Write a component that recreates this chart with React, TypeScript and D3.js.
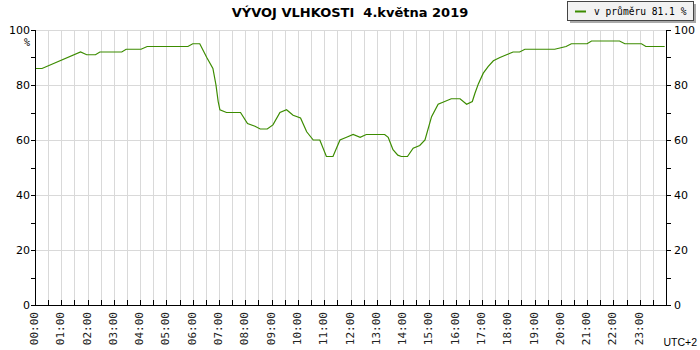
import React from "react";
import * as d3 from "d3";

// humidity readings, 4 May 2019 (local time, UTC+2)
const times = [
  "00:00", "00:16", "01:44", "01:58", "02:18", "02:28", "03:18", "03:28", "04:02", "04:16",
  "05:49", "06:00", "06:16", "06:32", "06:46", "06:53", "06:58", "07:02", "07:17", "07:49",
  "08:05", "08:22", "08:34", "08:50", "09:03", "09:19", "09:34", "09:49", "10:06", "10:20",
  "10:35", "10:50", "11:05", "11:20", "11:36", "11:51", "12:06", "12:22", "12:36", "13:18",
  "13:26", "13:37", "13:48", "13:56", "14:10", "14:23", "14:38", "14:50", "15:05", "15:20",
  "15:35", "15:50", "16:10", "16:25", "16:38", "16:44", "16:52", "17:03", "17:14", "17:26",
  "17:41", "17:56", "18:11", "18:26", "18:38", "19:46", "20:12", "20:24", "21:00", "21:10",
  "22:14", "22:26", "23:04", "23:14", "23:57",
];
const humidity = [
  86, 86, 92, 91, 91, 92, 92, 93, 93, 94,
  94, 95, 95, 90, 86, 80, 74, 71, 70, 70,
  66, 65, 64, 64, 65.5, 70, 71, 69, 68, 63,
  60, 60, 54, 54, 60, 61, 62, 61, 62, 62,
  61, 56.5, 54.5, 54, 54, 57, 58, 60, 68.5, 73,
  74, 75, 75, 73, 74, 77, 80.5, 84.3, 86.7, 88.8,
  90, 91, 92, 92, 93, 93, 94, 95, 95, 96,
  96, 95, 95, 94, 94,
];
const hourLabels = d3.range(24).map((h) => (h < 10 ? "0" + h : "" + h) + ":00");
const yMajor = [0, 20, 40, 60, 80, 100];
const yMinor = [10, 30, 50, 70, 90];

const title = "VÝVOJ VLHKOSTI  4.května 2019";
const legendText = "v průměru 81.1 %";

const toHours = (t: string) => {
  const [h, m] = t.split(":").map(Number);
  return h + m / 60;
};

export default function App() {
  const left = 35, right = 666, top = 30, bottom = 305;
  const x = d3.scaleLinear().domain([0, 24]).range([left, right]);
  const y = d3.scaleLinear().domain([0, 100]).range([bottom, top]);

  const data = times.map((t, i) => ({ h: toHours(t), v: humidity[i] }));
  const line = d3.line<{ h: number; v: number }>().x((d) => x(d.h)).y((d) => y(d.v));

  const halfHours = d3.range(1, 48).map((k) => k / 2);
  const sans = "DejaVu Sans, sans-serif";
  const mono = "DejaVu Sans Mono, monospace";

  return (
    <svg width={700} height={350} style={{ position: "absolute", left: 0, top: 0, background: "#fff" }}>
      {/* grid */}
      <g stroke="#d9d9d9" shapeRendering="crispEdges">
        {halfHours.map((h) => (
          <line key={"v" + h} x1={Math.round(x(h)) + 0.5} x2={Math.round(x(h)) + 0.5} y1={top} y2={bottom} />
        ))}
        {yMajor.filter((v) => v > 0).map((v) => (
          <line key={"h" + v} x1={left} x2={right} y1={Math.round(y(v)) + 0.5} y2={Math.round(y(v)) + 0.5} />
        ))}
      </g>

      {/* data line */}
      <path d={line(data) || ""} fill="none" stroke="#3c8c00" strokeWidth={1.2} />

      {/* axes */}
      <g stroke="#000" shapeRendering="crispEdges">
        <line x1={left + 0.5} x2={left + 0.5} y1={top} y2={bottom + 1} />
        <line x1={right + 0.5} x2={right + 0.5} y1={top} y2={bottom + 1} />
        <line x1={left} x2={right + 1} y1={bottom + 0.5} y2={bottom + 0.5} />
        {halfHours.map((h) => (
          <line key={"t" + h} x1={Math.round(x(h)) + 0.5} x2={Math.round(x(h)) + 0.5} y1={bottom - 5} y2={bottom} />
        ))}
        {[...yMajor, ...yMinor].map((v) => (
          <g key={"yt" + v}>
            <line x1={left - 4} x2={left} y1={Math.round(y(v)) + 0.5} y2={Math.round(y(v)) + 0.5} />
            <line x1={right + 1} x2={right + 5} y1={Math.round(y(v)) + 0.5} y2={Math.round(y(v)) + 0.5} />
          </g>
        ))}
      </g>

      {/* y labels */}
      <g fontFamily={sans} fontSize={11} fill="#000">
        {yMajor.map((v) => (
          <g key={"yl" + v}>
            <text x={left - 5} y={y(v) + 4} textAnchor="end">{v}</text>
            <text x={right + 8} y={y(v) + 4} textAnchor="start">{v}</text>
          </g>
        ))}
      </g>
      <text x={27} y={46} fontFamily={mono} fontSize={10} textAnchor="middle">%</text>

      {/* x labels */}
      <g fontFamily={mono} fontSize={11} fill="#222">
        {hourLabels.map((lab, i) => (
          <text key={lab} transform={`translate(${x(i) + 3},${bottom + 7}) rotate(-90)`} textAnchor="end">
            {lab}
          </text>
        ))}
      </g>
      <text x={697} y={346} textAnchor="end" fontFamily="Liberation Sans, sans-serif" fontSize={10.5}>UTC+2</text>

      {/* title */}
      <text x={350} y={17} textAnchor="middle" fontFamily={sans} fontSize={13} fontWeight="bold" style={{ whiteSpace: "pre" }}>
        {title}
      </text>

      {/* legend */}
      <rect x={570} y={4} width={126} height={19} fill="#aaa" />
      <rect x={567.5} y={1.5} width={126} height={19} fill="#f2f2f2" stroke="#444" />
      <line x1={575} x2={586} y1={11.5} y2={11.5} stroke="#3c8c00" strokeWidth={2} />
      <text x={594} y={15} fontFamily={mono} fontSize={9.6}>{legendText}</text>
    </svg>
  );
}
